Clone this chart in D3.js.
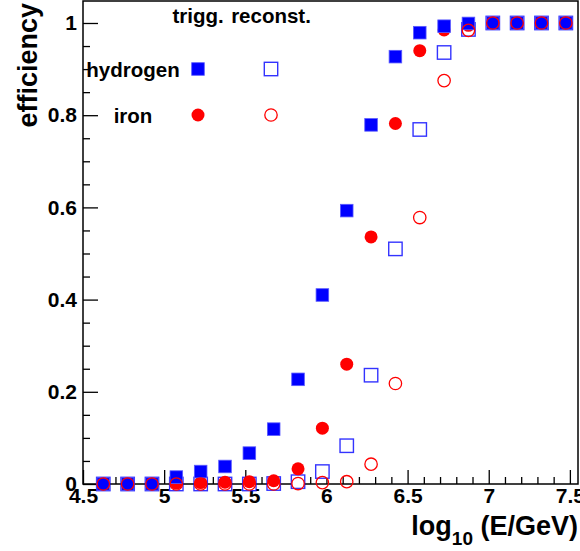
<!DOCTYPE html>
<html>
<head>
<meta charset="utf-8">
<script src="https://cdn.jsdelivr.net/npm/d3@7/dist/d3.min.js"></script>
<style>
  html, body { margin: 0; padding: 0; background: #fff; }
  svg { display: block; }
  text { font-family: "Liberation Sans", Arial, Helvetica, sans-serif; font-weight: bold; }
</style>
</head>
<body>
<svg id="chart" width="580" height="551"></svg>
<script>
// Bin centres in log10(E/GeV)
const energy = [4.625, 4.775, 4.925, 5.075, 5.225, 5.375, 5.525, 5.675, 5.825, 5.975,
                6.125, 6.275, 6.425, 6.575, 6.725, 6.875, 7.025, 7.175, 7.325, 7.475];

// Trigger efficiency
const hydrogenTrigg = [0, 0, 0, 0.015, 0.027, 0.038, 0.067, 0.119, 0.227, 0.410,
                       0.593, 0.779, 0.927, 0.979, 0.993, 0.999, 1, 1, 1, 1];
const ironTrigg     = [0, 0, 0, 0.002, 0.003, 0.004, 0.005, 0.007, 0.033, 0.121,
                       0.260, 0.536, 0.782, 0.940, 0.985, 0.995, 1, 1, 1, 1];

// Reconstruction efficiency
const hydrogenReco  = [0, 0, 0, 0, 0, 0, 0, 0.001, 0.005, 0.027,
                       0.083, 0.236, 0.510, 0.769, 0.936, 0.986, 1, 1, 1, 1];
const ironReco      = [0, 0, 0, 0, 0, 0, 0, 0, 0.001, 0.003,
                       0.005, 0.043, 0.218, 0.578, 0.875, 0.984, 1, 1, 1, 1];

const xTicks = [4.5, 5, 5.5, 6, 6.5, 7, 7.5];
const xTickLabels = ["4.5", "5", "5.5", "6", "6.5", "7", "7.5"];
const yTicks = [0, 0.2, 0.4, 0.6, 0.8, 1];
const yTickLabels = ["0", "0.2", "0.4", "0.6", "0.8", "1"];

const legendColumns = ["trigg.", "reconst."];
const legendRows = ["hydrogen", "iron"];

const BLUE = "#0000ff", RED = "#ff0000";

const svg = d3.select("#chart");
const x = d3.scaleLinear().domain([4.5, 7.55]).range([83, 578]);
const y = d3.scaleLinear().domain([0, 1.0477]).range([484, 1]);

// minor ticks
const xMinor = d3.range(45, 76).map(v => v / 10).filter(v => Math.abs(v * 2 - Math.round(v * 2)) > 1e-6);
const yMinor = d3.range(0, 22).map(v => v * 0.05).filter(v => Math.abs(v * 5 - Math.round(v * 5)) > 1e-6 && v <= 1.0477);

const axisStyle = g => {
  g.select(".domain").remove();
  g.selectAll("line").attr("stroke", "#000").attr("stroke-width", 1.3);
};

// x axis
svg.append("g").attr("transform", `translate(0,${y(0)})`)
  .call(d3.axisBottom(x).tickValues(xMinor).tickSize(-7).tickFormat(""))
  .call(axisStyle);
svg.append("g").attr("transform", `translate(0,${y(0)})`)
  .call(d3.axisBottom(x).tickValues(xTicks).tickSize(-14).tickPadding(4)
        .tickFormat((d, i) => xTickLabels[i]))
  .call(axisStyle)
  .call(g => g.selectAll("text").attr("fill", "#000").style("font-size", "21px"));

// y axis
svg.append("g").attr("transform", `translate(${x(4.5)},0)`)
  .call(d3.axisLeft(y).tickValues(yMinor).tickSize(-7).tickFormat(""))
  .call(axisStyle);
svg.append("g").attr("transform", `translate(${x(4.5)},0)`)
  .call(d3.axisLeft(y).tickValues(yTicks).tickSize(-15).tickPadding(6)
        .tickFormat((d, i) => yTickLabels[i]))
  .call(axisStyle)
  .call(g => g.selectAll("text").attr("fill", "#000").style("font-size", "21px"));

// frame
svg.append("rect")
  .attr("x", x(4.5)).attr("y", y.range()[1])
  .attr("width", x(7.55) - x(4.5)).attr("height", y(0) - y.range()[1])
  .attr("fill", "none").attr("stroke", "#000").attr("stroke-width", 1.5);

// markers
const SQ = 12.6, R = 6.5;
const pts = arr => energy.map((e, i) => ({ e, v: arr[i] }));

function openSquares(g, data) {
  g.selectAll(null).data(data).join("rect")
    .attr("x", d => x(d.e) - 6.7).attr("y", d => y(d.v) - 6.7)
    .attr("width", 13.4).attr("height", 13.4)
    .attr("fill", "#fff").attr("stroke", BLUE).attr("stroke-width", 1.4).attr("stroke-opacity", 0.8);
}
function filledSquares(g, data) {
  g.selectAll(null).data(data).join("rect")
    .attr("x", d => x(d.e) - SQ / 2).attr("y", d => y(d.v) - SQ / 2)
    .attr("width", SQ).attr("height", SQ)
    .attr("fill", BLUE).attr("stroke", "#5a5aff").attr("stroke-width", 0.8);
}
function filledCircles(g, data) {
  g.selectAll(null).data(data).join("circle")
    .attr("cx", d => x(d.e)).attr("cy", d => y(d.v)).attr("r", R)
    .attr("fill", RED);
}
function openCircles(g, data) {
  g.selectAll(null).data(data).join("circle")
    .attr("cx", d => x(d.e)).attr("cy", d => y(d.v)).attr("r", 6.2)
    .attr("fill", "none").attr("stroke", RED).attr("stroke-width", 1.3);
}

const plot = svg.append("g");
openSquares(plot.append("g"), pts(hydrogenReco));
filledCircles(plot.append("g"), pts(ironTrigg));
filledSquares(plot.append("g"), pts(hydrogenTrigg));
openCircles(plot.append("g"), pts(ironReco));

// legend
const colX = [198, 271];
const rowY = [69, 115];
const legend = svg.append("g");
legend.selectAll(null).data(legendColumns).join("text")
  .attr("x", (d, i) => colX[i]).attr("y", 23)
  .attr("text-anchor", "middle").style("font-size", "20.5px").text(d => d);
legend.selectAll(null).data(legendRows).join("text")
  .attr("x", 133).attr("y", (d, i) => rowY[i] + 8)
  .attr("text-anchor", "middle").style("font-size", "20.5px").text(d => d);
filledSquares(legend.append("g"), [{ e: x.invert(colX[0]), v: y.invert(rowY[0]) }]);
openSquares(legend.append("g"), [{ e: x.invert(colX[1]), v: y.invert(rowY[0]) }]);
filledCircles(legend.append("g"), [{ e: x.invert(colX[0]), v: y.invert(rowY[1]) }]);
openCircles(legend.append("g"), [{ e: x.invert(colX[1]), v: y.invert(rowY[1]) }]);

// axis titles
svg.append("text")
  .attr("transform", "translate(37,3) rotate(-90)")
  .attr("text-anchor", "end").style("font-size", "27px").text("efficiency");

const xt = svg.append("text").attr("x", 578).attr("y", 535)
  .attr("text-anchor", "end").style("font-size", "27px");
xt.append("tspan").text("log");
xt.append("tspan").attr("dy", 10).style("font-size", "19px").text("10");
xt.append("tspan").attr("dy", -10).text(" (E/GeV)");
</script>
</body>
</html>
